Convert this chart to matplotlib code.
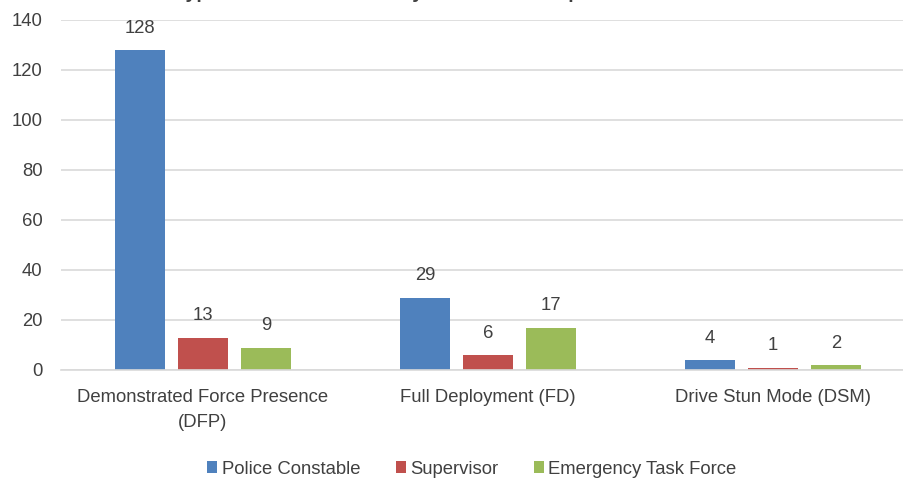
import matplotlib.pyplot as plt
import numpy as np

plt.rcParams['font.family'] = ['Liberation Sans', 'DejaVu Sans']
fs = 13.3

categories = ["Demonstrated Force Presence\n(DFP)", "Full Deployment (FD)", "Drive Stun Mode (DSM)"]
series_names = ["Police Constable", "Supervisor", "Emergency Task Force"]
police_constable = [128, 29, 4]
supervisor = [13, 6, 1]
emergency_task_force = [9, 17, 2]
colors = ["#4F81BD", "#C0504D", "#9BBB59"]
title = "Type of CEW Use Taken by Rank and Group"

text_c = "#404040"

fig = plt.figure(figsize=(9.04, 4.83), dpi=100)
ax = fig.add_axes([60.5 / 904, 113 / 483, 855 / 904, 350 / 483])

x = np.arange(len(categories))
width = 0.175
step = 0.221
for i, (name, vals, c) in enumerate(zip(series_names, [police_constable, supervisor, emergency_task_force], colors)):
    bars = ax.bar(x + (i - 1) * step, vals, width, color=c, label=name, zorder=3)
    for b, v in zip(bars, vals):
        ax.annotate(str(v), (b.get_x() + b.get_width() / 2, v), xytext=(0, 9.5),
                    textcoords="offset points", ha="center", va="bottom",
                    fontsize=fs, color=text_c)

ax.set_xlim(-0.5, 2.5)
ax.set_ylim(0, 140)
ax.set_yticks(range(0, 141, 20))
ax.grid(True, axis="y", color="#D9D9D9", linewidth=1.2, zorder=0)
for s in ["top", "right", "left"]:
    ax.spines[s].set_visible(False)
ax.spines["bottom"].set_color("#D9D9D9")
ax.spines["bottom"].set_linewidth(1.2)
ax.spines["bottom"].set_zorder(4)
ax.set_xticks(x)
ax.set_xticklabels(categories, fontsize=fs, color=text_c, linespacing=1.55)
ax.tick_params(axis="both", length=0, labelsize=fs, labelcolor=text_c)
ax.tick_params(axis="y", pad=13)
ax.tick_params(axis="x", pad=14)

fig.text(175 / 904, 1 + 1.5 / 483, title, fontsize=14, fontweight="bold", color=text_c,
         ha="left", va="baseline")

fig.legend(loc="center", bbox_to_anchor=(472 / 904, 1 - 469 / 483), ncol=3,
           frameon=False, fontsize=fs, handlelength=0.55, handleheight=0.55,
           handletextpad=0.25, columnspacing=1.9, labelcolor=text_c)

fig.savefig("out.png", dpi=100)
